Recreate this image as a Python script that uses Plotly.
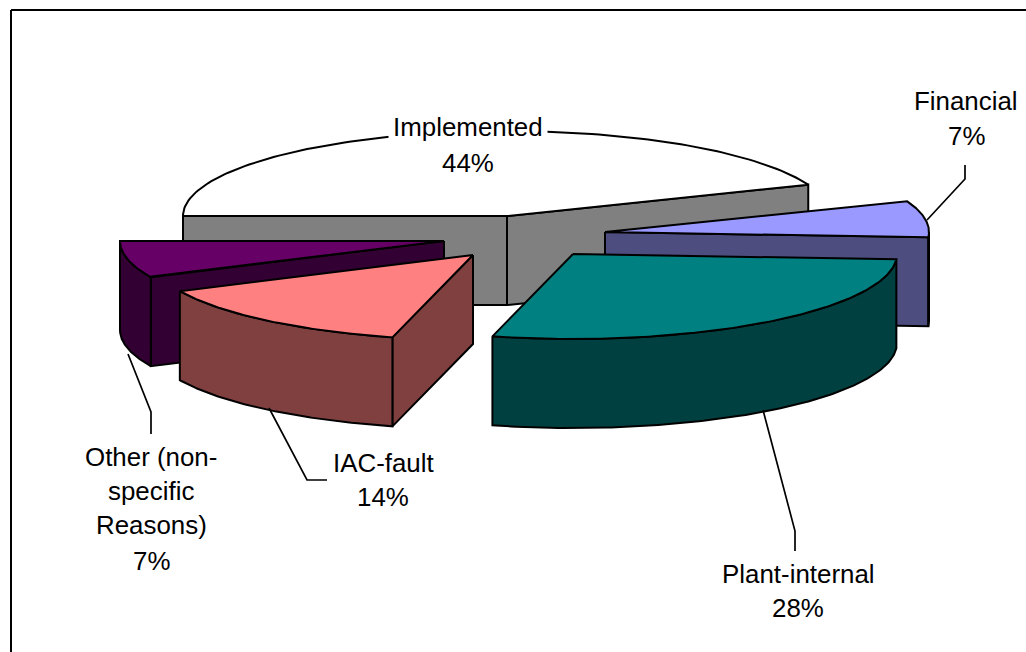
import numpy as np
import plotly.graph_objects as go

# --- data ---
categories = ["Implemented", "Financial", "Plant-internal", "IAC-fault", "Other (non-specific Reasons)"]
shares = [44, 7, 28, 14, 7]

# --- styles / layout of the exploded 3-D pie ---
top_colors = ["#FFFFFF", "#9999FF", "#008080", "#FF8080", "#660066"]
side_colors = ["#808080", "#4D4D80", "#004040", "#804040", "#330033"]
apexes = [(507, 216), (605, 232), (573, 254), (473, 255), (444, 241)]
RX, RY, DEPTH = 324, 85, 89
LW = 2
FONT = dict(family="Liberation Sans, Arial, sans-serif", size=25.9, color="#000000")
draw_order = [0, 1, 4, 3, 2]

label_lines = [
    (468, 127, "Implemented", True), (468, 163, "44%", False),
    (966, 101, "Financial", False), (966, 136, "7%", False),
    (798, 574, "Plant-internal", False), (798, 608, "28%", False),
    (383, 463, "IAC-fault", False), (383, 497, "14%", False),
    (151, 457, "Other (non-", False), (151, 491, "specific", False),
    (151, 525, "Reasons)", False), (151, 561, "7%", False),
]
leaders = [
    ([965, 965, 927], [165, 179, 220]),
    ([795, 795, 763], [551, 531, 410]),
    ([327, 307, 269], [480, 480, 408]),
    ([151, 151, 128], [434, 412, 354]),
]

fig = go.Figure()


def poly(xs, ys, fill):
    fig.add_trace(go.Scatter(
        x=xs, y=ys, mode="lines", fill="toself", fillcolor=fill,
        line=dict(color="#000000", width=LW), hoverinfo="skip", showlegend=False))


def arc(ax, ay, t0, t1, dz=0):
    t = np.radians(np.linspace(t0, t1, 120))
    return list(ax + RX * np.cos(t)), list(ay - RY * np.sin(t) + dz)


# slice angles run clockwise from the 9 o'clock position
ends = 180 - 3.6 * np.cumsum(shares)
starts = np.concatenate([[180.0], ends[:-1]])

for i in draw_order:
    ax, ay = apexes[i]
    a, b = starts[i], ends[i]
    side, top = side_colors[i], top_colors[i]
    # cut faces that look towards the viewer
    for t, visible in ((a, np.cos(np.radians(a)) < -1e-9), (b, np.cos(np.radians(b)) > 1e-9)):
        if visible:
            ex = ax + RX * np.cos(np.radians(t))
            ey = ay - RY * np.sin(np.radians(t))
            poly([ax, ex, ex, ax, ax], [ay, ey, ey + DEPTH, ay + DEPTH, ay], side)
    # outer rim, front half only
    lo, hi = max(b, -180), min(a, 0)
    if hi > lo:
        x1, y1 = arc(ax, ay, lo, hi)
        x2, y2 = arc(ax, ay, hi, lo, DEPTH)
        poly(x1 + x2 + x1[:1], y1 + y2 + y1[:1], side)
    # top face
    x1, y1 = arc(ax, ay, a, b)
    poly([ax] + x1 + [ax], [ay] + y1 + [ay], top)

for lx, ly in leaders:
    fig.add_trace(go.Scatter(x=lx, y=ly, mode="lines", line=dict(color="#000000", width=1.7),
                             hoverinfo="skip", showlegend=False))

annotations = [
    dict(x=x, y=y, text=s, showarrow=False, xanchor="center", yanchor="middle", font=FONT,
         bgcolor="#FFFFFF" if bg else "rgba(0,0,0,0)", borderpad=4 if bg else 1)
    for x, y, s, bg in label_lines
]

frame = [
    dict(type="line", x0=11, x1=11, y0=10, y1=652, line=dict(color="#000000", width=2)),
    dict(type="line", x0=11, x1=1026, y0=10, y1=10, line=dict(color="#000000", width=2)),
]

fig.update_layout(
    width=1026, height=652, autosize=False,
    margin=dict(l=0, r=0, t=0, b=0),
    paper_bgcolor="#FFFFFF", plot_bgcolor="#FFFFFF",
    xaxis=dict(range=[0, 1026], visible=False, fixedrange=True),
    yaxis=dict(range=[652, 0], visible=False, fixedrange=True),
    annotations=annotations, shapes=frame, showlegend=False,
)

fig.write_html("out.html", config=dict(displayModeBar=False),
               post_script="document.body.style.margin='0';document.body.style.overflow='hidden';")
